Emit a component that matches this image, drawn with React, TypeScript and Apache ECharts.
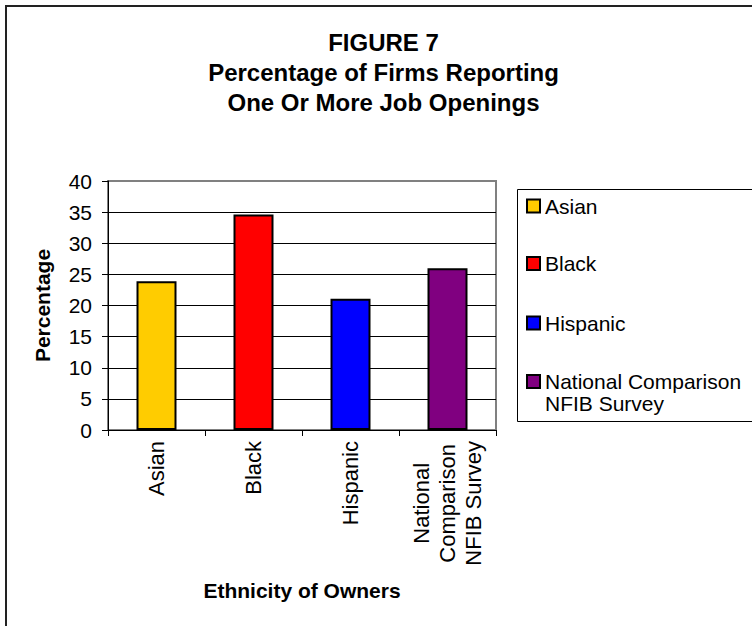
import React, { useEffect, useRef } from 'react';
import * as echarts from 'echarts';

const categories = ['Asian', 'Black', 'Hispanic', 'National\nComparison\nNFIB Survey'];
const legendNames = ['Asian', 'Black', 'Hispanic', 'National Comparison\nNFIB Survey'];
const values = [23.9, 34.6, 21.1, 26.0];
const colors = ['#FFCC00', '#FF0000', '#0000FF', '#800080'];
const yMin = 0;
const yMax = 40;
const yInterval = 5;
const titleLines = ['FIGURE 7', 'Percentage of Firms Reporting', 'One Or More Job Openings'];
const yAxisTitle = 'Percentage';
const xAxisTitle = 'Ethnicity of Owners';

const FONT = 'Liberation Sans, Arial, Helvetica, sans-serif';
const legendTops = [195, 252.5, 312, 348.5];

export default function App() {
  const ref = useRef<HTMLDivElement>(null);
  useEffect(() => {
    if (!ref.current) return;
    const chart = echarts.init(ref.current, null, { renderer: 'svg' });
    const nLines = (yMax - yMin) / yInterval + 1;
    const splitColors = Array.from({ length: nLines }, (_, i) => (i === nLines - 1 ? '#808080' : '#000000'));
    const option: any = {
      animation: false,
      backgroundColor: '#ffffff',
      textStyle: { fontFamily: FONT },
      graphic: [
        {
          type: 'rect',
          shape: { x: 6, y: 6, width: 760, height: 640 },
          style: { fill: 'none', stroke: '#222', lineWidth: 2 },
          silent: true,
        },
        {
          type: 'rect',
          shape: { x: 517.5, y: 189.5, width: 250, height: 232 },
          style: { fill: '#fff', stroke: '#000', lineWidth: 1 },
          silent: true,
          z: -1,
        },
        {
          type: 'text',
          x: 383.5,
          y: 27,
          style: {
            text: titleLines.join('\n'),
            font: `bold 24px ${FONT}`,
            fill: '#000',
            textAlign: 'center',
            lineHeight: 30,
          },
        },
      ],
      grid: {
        left: 108,
        right: 752 - 496,
        top: 181,
        bottom: 626 - 430,
        show: true,
        borderColor: '#808080',
        borderWidth: 2,
        backgroundColor: 'transparent',
      },
      legend: legendNames.map((name, i) => ({
        orient: 'vertical',
        left: 526,
        top: legendTops[i],
        padding: 0,
        itemWidth: 13,
        itemHeight: 13,
        icon: 'rect',
        // multi-line names get a leading blank line so the first line sits beside the swatch
        formatter: (n: string) => (n.indexOf('\n') >= 0 ? '\n' + n : n),
        textStyle: { fontSize: 21, color: '#000', fontFamily: FONT, lineHeight: 22 },
        data: [name],
      })),
      xAxis: {
        type: 'category',
        data: categories,
        axisLine: { show: true, lineStyle: { color: '#000', width: 1 } },
        axisTick: { show: true, length: 6, lineStyle: { color: '#000' } },
        axisLabel: {
          rotate: 90,
          interval: 0,
          margin: 11,
          fontSize: 22,
          color: '#000',
          fontFamily: FONT,
          lineHeight: 26,
          formatter: (v: string) => v.split('\n').map((s) => `{c|${s}}`).join('\n'),
          rich: { c: { align: 'center', fontSize: 22, fontFamily: FONT, color: '#000', lineHeight: 26 } },
        },
        name: xAxisTitle,
        nameLocation: 'middle',
        nameGap: 150,
        nameTextStyle: { fontSize: 21, fontWeight: 'bold', color: '#000', fontFamily: FONT },
      },
      yAxis: {
        type: 'value',
        min: yMin,
        max: yMax,
        interval: yInterval,
        axisLine: { show: true, lineStyle: { color: '#000', width: 1 } },
        axisTick: { show: true, length: 6, lineStyle: { color: '#000' } },
        axisLabel: { fontSize: 21, color: '#000', margin: 16, fontFamily: FONT },
        splitLine: { show: true, lineStyle: { color: splitColors, width: 1 } },
        name: yAxisTitle,
        nameLocation: 'middle',
        nameGap: 55,
        nameTextStyle: { fontSize: 21, fontWeight: 'bold', color: '#000', fontFamily: FONT },
      },
      series: legendNames.map((name, i) => ({
        name,
        type: 'bar',
        stack: 'one',
        barWidth: 40,
        itemStyle: { color: colors[i], borderColor: '#000', borderWidth: 2 },
        data: categories.map((_, j) => (j === i ? values[i] : '-')),
      })),
    };
    chart.setOption(option);
    return () => chart.dispose();
  }, []);
  return (
    <div
      ref={ref}
      style={{ position: 'fixed', left: 0, top: 0, width: 752, height: 626, background: '#fff' }}
    />
  );
}
